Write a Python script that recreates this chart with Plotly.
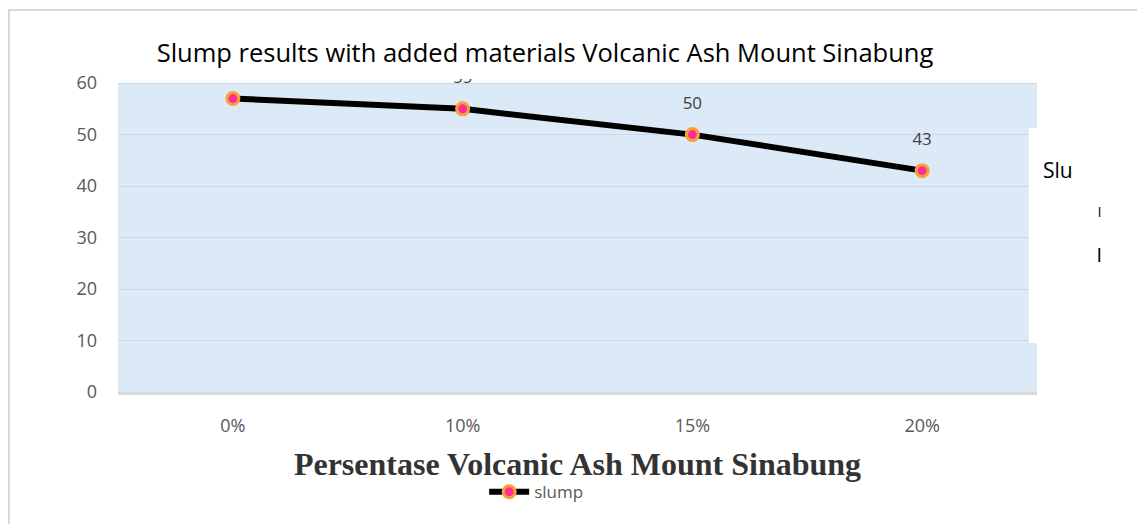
import plotly.graph_objects as go

# data
percentages = ["0%", "10%", "15%", "20%"]
slump_values = [57, 55, 50, 43]
label_texts = ["", "55", "50", "43"]

chart_title = "Slump results with added materials Volcanic Ash Mount Sinabung"
x_title = "Persentase Volcanic Ash Mount Sinabung"
series_name = "slump"

fig = go.Figure()

fig.add_trace(
    go.Scatter(
        x=percentages,
        y=slump_values,
        name=series_name,
        mode="lines+markers",
        line=dict(color="black", width=6),
        marker=dict(size=12, color="#ff2f92", line=dict(color="#f6a23a", width=3)),
        cliponaxis=False,
    )
)

# data labels, clipped to the plot area like in the original
fig.add_trace(
    go.Scatter(
        x=percentages,
        y=slump_values,
        text=label_texts,
        mode="markers+text",
        textposition="top center",
        textfont=dict(family="Open Sans", size=17, color="#404040"),
        marker=dict(size=33, color="rgba(0,0,0,0)"),
        showlegend=False,
        hoverinfo="skip",
        cliponaxis=True,
    )
)

fig.update_layout(
    width=1145,
    height=524,
    margin=dict(l=110, r=116, t=71, b=140),
    paper_bgcolor="white",
    plot_bgcolor="white",
    font=dict(family="Open Sans", color="#595959"),
    title=dict(
        text=chart_title,
        x=0.469,
        xanchor="center",
        y=0.914,
        yanchor="middle",
        font=dict(family="Open Sans", size=25.5, color="black"),
    ),
    showlegend=True,
    legend=dict(
        orientation="h",
        x=0.455,
        xanchor="center",
        y=-0.32,
        yanchor="middle",
        font=dict(size=17, color="#595959"),
        itemwidth=40,
    ),
    shapes=[
        # light blue plot background
        dict(type="rect", xref="paper", yref="y", x0=0, x1=1, y0=0, y1=60,
             fillcolor="#dce9f7", line=dict(width=0), layer="below"),
        # white patch left over from the cropped legend box
        dict(type="rect", xref="paper", yref="y", x0=0.991, x1=1.02, y0=9.5, y1=51.3,
             fillcolor="white", line=dict(width=0), layer="above"),
        # outer chart frame
        dict(type="rect", xref="paper", yref="paper", x0=-0.1186, x1=1.2, y0=-0.5, y1=1.2204,
             fillcolor="rgba(0,0,0,0)", line=dict(color="#d9d9d9", width=2), layer="below"),
    ],
    annotations=[
        dict(text="Slu", xref="paper", yref="paper", x=1.0044, y=0.709, xanchor="left",
             yanchor="middle", showarrow=False, font=dict(family="Open Sans", size=21, color="black")),
        dict(text="l", xref="paper", yref="paper", x=1.0675, y=0.574, xanchor="center",
             yanchor="middle", showarrow=False, font=dict(family="Lato", size=13, color="black")),
        dict(text="l", xref="paper", yref="paper", x=1.0675, y=0.44, xanchor="center",
             yanchor="middle", showarrow=False, font=dict(family="Lato", size=19, color="black")),
    ],
)

fig.update_xaxes(
    type="category",
    range=[-0.5, 3.5],
    showgrid=False,
    showline=True,
    linecolor="#d9d9d9",
    linewidth=3,
    ticks="",
    ticklabelstandoff=15,
    tickfont=dict(family="Open Sans", size=18, color="#595959"),
    title=dict(
        text=f"<b>{x_title}</b>",
        standoff=18,
        font=dict(family="Liberation Serif", size=32, color="#333333"),
    ),
)

fig.update_yaxes(
    range=[0, 60.8],
    tickvals=[0, 10, 20, 30, 40, 50, 60],
    showgrid=True,
    gridcolor="#c7d8ec",
    gridwidth=1,
    zeroline=False,
    showline=False,
    ticks="",
    ticklabelstandoff=20,
    tickfont=dict(family="Open Sans", size=18, color="#595959"),
)

fig.write_html("out.html")
